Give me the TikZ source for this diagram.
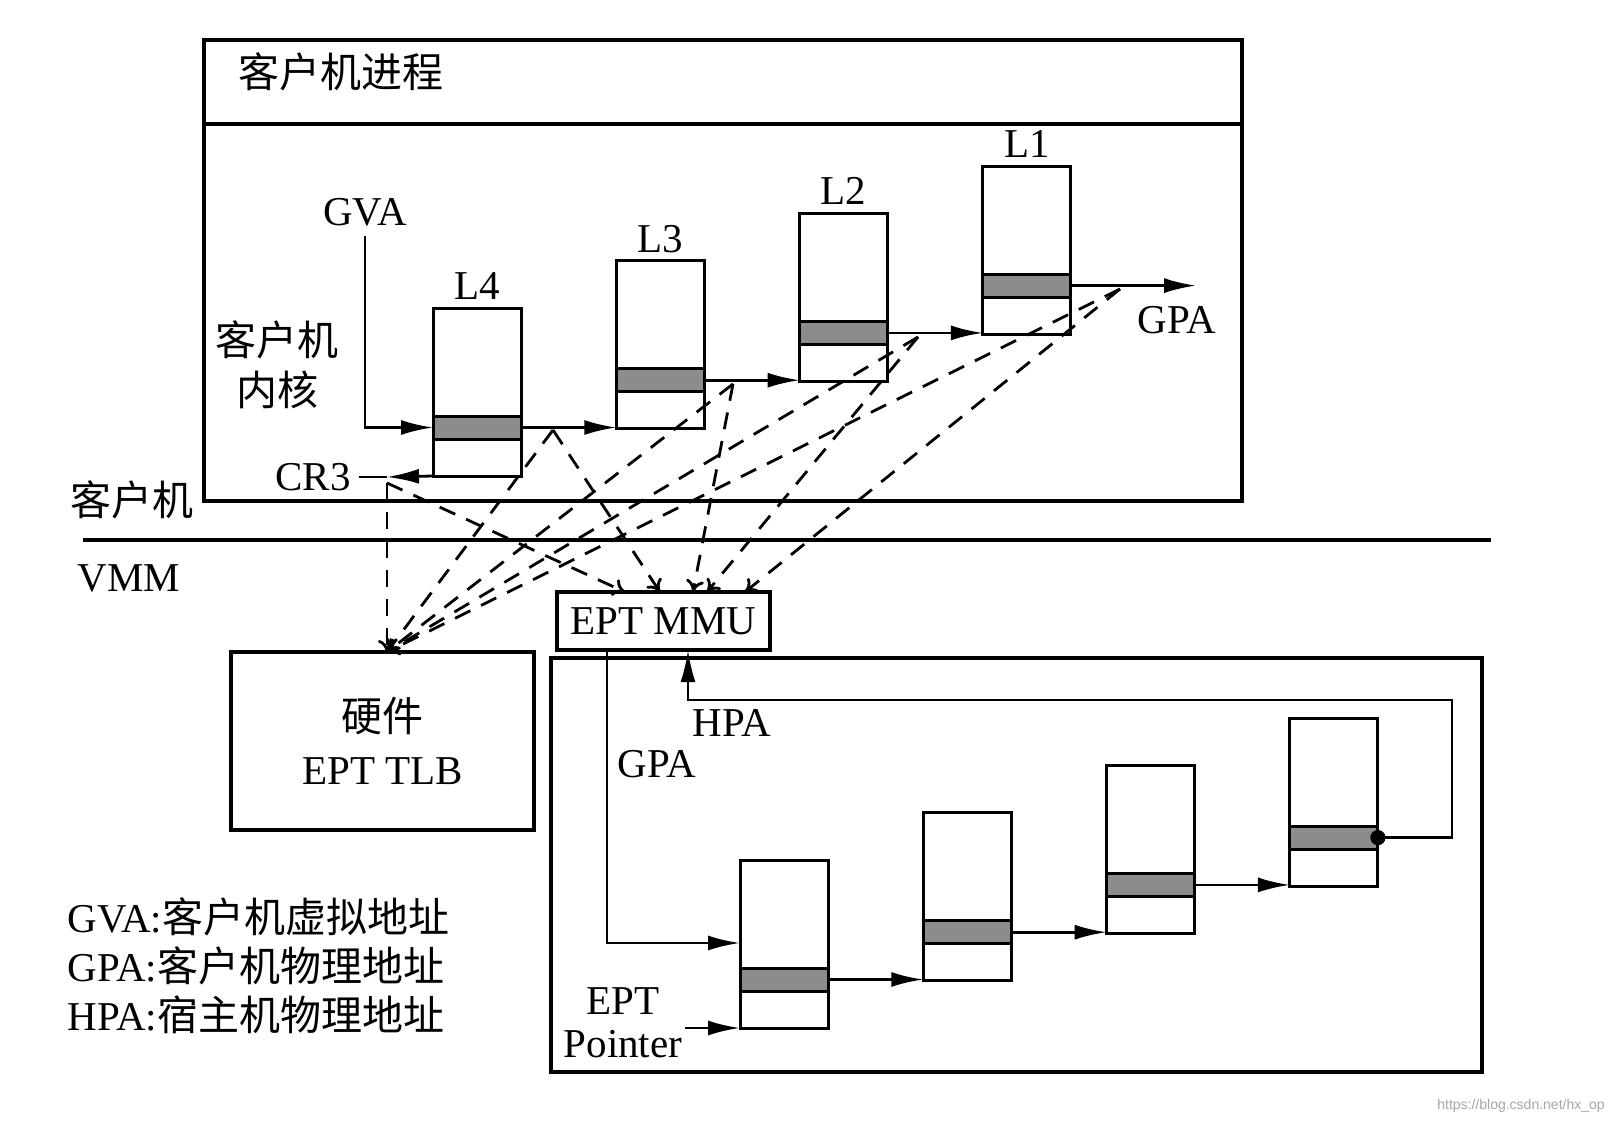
\documentclass[tikz,border=0pt]{standalone}
\usepackage{fontspec}
\setmainfont{Liberation Serif}
\newfontfamily\cjk{Noto Sans CJK SC}
\newfontfamily\wmfont{Liberation Sans}
\usetikzlibrary{arrows.meta,calc}
\newcommand\mysz{\fontsize{20.5pt}{24.5pt}\selectfont}
\begin{document}
\begin{tikzpicture}[x=0.5pt,y=-0.5pt,
  tbl/.style={draw, line width=1.5pt, fill=white, minimum width=44pt, minimum height=84pt, inner sep=0pt, outer sep=0pt},
  shd/.style={draw, line width=1.5pt, fill=black!45, minimum width=44pt, minimum height=11.5pt, inner sep=0pt, outer sep=0pt},
  bx/.style={draw, line width=1.6pt, inner sep=0pt, outer sep=0pt},
  lab/.style={inner sep=0pt, font=\mysz},
  cjklab/.style={inner sep=0pt, font=\mysz\cjk},
  arr/.style={line width=1.4pt, -{Latex[length=16pt,width=7.5pt]}},
  dsh/.style={line width=1.4pt, dash pattern=on 8.5pt off 6pt, -{To[length=6pt,width=9pt]}},
  plain/.style={line width=1.4pt}]
\useasboundingbox (0,0) rectangle (1624,1124);
\fill[white] (0,0) rectangle (1624,1124);

% ---------- guest box ----------
\node[bx, minimum width=519pt, minimum height=230.5pt] (topbox) at (723,270.5) {};
\coordinate (div) at (0,124);
\draw[line width=1.6pt] (topbox.west |- div) -- (topbox.east |- div);
\node[cjklab, anchor=west] (proc) at (238,72) {客户机进程};

% separator
\coordinate (sepL) at (83,540);
\coordinate (sepR) at (1491,540);
\draw[line width=2.2pt] (sepL) -- (sepR);
\node[cjklab] (guest) at (132,500) {客户机};
\node[lab] (vmm) at (129,578) {VMM};

% ---------- guest page tables ----------
\foreach \i/\nm in {0/L4,1/L3,2/L2,3/L1} {
  \pgfmathsetmacro\cx{477+183.3*\i}
  \pgfmathsetmacro\cy{392-47.3*\i}
  \node[tbl] (g\i) at (\cx,\cy) {};
  \node[shd] (gs\i) at (\cx,\cy+35.5) {};
  \node[lab] (lab\i) at ($(g\i.north)+(0,-22)$) {\nm};
}
\draw[arr] (gs0.east) -- (gs0.east -| g1.west);
\draw[arr] (gs1.east) -- (gs1.east -| g2.west);
\draw[arr] (gs2.east) -- (gs2.east -| g3.west);

\node[lab] (gva) at (365,212) {GVA};
\draw[arr] ([yshift=-5pt]gva.south) |- (gs0.west);
\node[cjklab, align=center, font={\fontsize{20.5pt}{25pt}\selectfont\cjk}] (kern) at (277,365) {客户机\\内核};

\node[lab] (cr3) at (313,477) {CR3};
\coordinate (p0) at (387,477);
\draw[arr] (g0.south west) -- (p0);
\draw[plain] (p0) -- ([xshift=4pt]cr3.east);

\coordinate (gpaend) at (1196,285);
\draw[arr] (gs3.east) -- (gs3.east -| gpaend);
\node[lab] (gpa) at (1177,320) {GPA};

% ---------- TLB ----------
\node[bx, minimum width=151.5pt, minimum height=89pt, align=center,
      font={\fontsize{20.5pt}{26.5pt}\selectfont}] (tlb) at (382.5,741) {{\cjk 硬件}\\EPT TLB};

% ---------- EPT MMU ----------
\node[bx, minimum width=106.5pt, minimum height=29pt, font=\mysz] (mmu) at (663.5,621) {EPT MMU};

% ---------- EPT box ----------
\node[bx, minimum width=465.5pt, minimum height=207pt] (eptbox) at (1016.5,865) {};

\foreach \i in {0,1,2,3} {
  \pgfmathsetmacro\cx{784+183.3*\i}
  \pgfmathsetmacro\cy{944-47.3*\i}
  \node[tbl] (e\i) at (\cx,\cy) {};
  \node[shd] (es\i) at (\cx,\cy+35.5) {};
}
\draw[arr] (es0.east) -- (es0.east -| e1.west);
\draw[arr] (es1.east) -- (es1.east -| e2.west);
\draw[arr] (es2.east) -- (es2.east -| e3.west);

\coordinate (ga) at (607,943);
\draw[arr] (mmu.south -| ga) |- (e0.west |- ga);
\node[lab] (gpa2) at (657,764) {GPA};

\coordinate (hr) at (1452,700);
\coordinate (hl) at (688,700);
\fill (es3.east) circle (3.8pt);
\draw[arr] (es3.east) -- (es3.east -| hr) -- (hr) -- (hl) -- (mmu.south -| hl);
\node[lab] (hpa) at (732,723) {HPA};

\coordinate (ep0) at (685,1028);
\draw[arr] (ep0) -- (e0.south west);
\node[lab, align=center, font={\fontsize{20.5pt}{21.5pt}\selectfont}] (eptp) at (623,1023) {EPT\\Pointer};

% ---------- dashed network ----------
\coordinate (p1) at (553,430);
\coordinate (p2) at (733,384);
\coordinate (p3) at (918,337);
\coordinate (p4) at (1120,289);
\coordinate (T) at (p0 |- tlb.north);
\coordinate (m0) at (625,592);
\coordinate (m1) at (660,592);
\coordinate (m2) at (693,592);
\coordinate (m3) at (707,592);
\coordinate (m4) at (745,592);
\coordinate (p0b) at (387,483);
\draw[dsh] (p0b) -- (T);
\draw[dsh] (p0b) -- (m0);
\draw[dsh] (p1) -- (T);
\draw[dsh] (p1) -- (m1);
\draw[dsh] (p2) -- (T);
\draw[dsh] (p2) -- (m2);
\draw[dsh] (p3) -- (T);
\draw[dsh] (p3) -- (m3);
\draw[dsh] (p4) -- (T);
\draw[dsh] (p4) -- (m4);

% ---------- legend ----------
\node[lab, anchor=west, align=left] (legend) at (67,966)
  {GVA:{\cjk 客户机虚拟地址}\\GPA:{\cjk 客户机物理地址}\\HPA:{\cjk 宿主机物理地址}};

\node[inner sep=0pt, text=black!35, font={\wmfont\fontsize{7pt}{8pt}\selectfont}] (wm) at (1521,1106) {https://blog.csdn.net/hx\_op};
\end{tikzpicture}
\end{document}
